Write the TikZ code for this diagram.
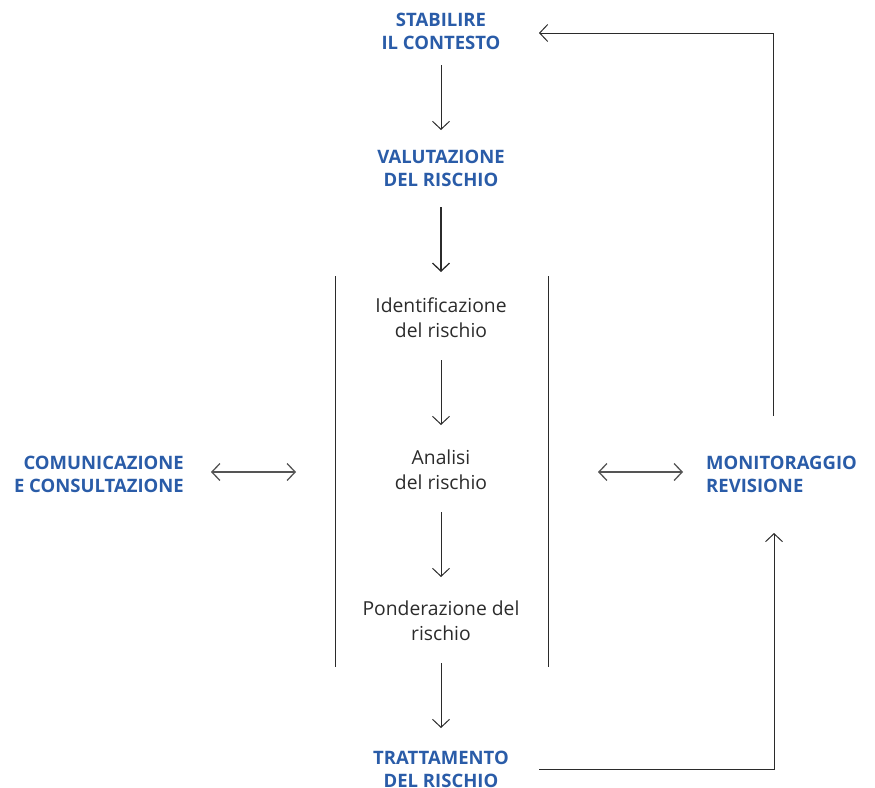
\documentclass[tikz,border=0pt]{standalone}
\usepackage{fontspec}
\setmainfont{Open Sans}
\usetikzlibrary{arrows.meta}
\definecolor{riskblue}{HTML}{2A5CA8}
\definecolor{softblack}{HTML}{2B2B2B}
\tikzset{
  bluetxt/.style={font=\fontsize{18.5}{23}\selectfont\bfseries, text=riskblue, align=center, inner sep=0pt},
  steptxt/.style={font=\fontsize{19.3}{25}\selectfont, text=softblack, align=center, inner sep=0pt},
  conn/.style={draw=softblack, line width=1pt, -{Straight Barb[length=8pt,width=17pt]}},
  dconn/.style={draw=softblack!80, line width=1.3pt, {Straight Barb[length=8pt,width=17pt]}-{Straight Barb[length=8pt,width=17pt]}},
  frame/.style={draw=softblack, line width=1pt}
}
\begin{document}
\begin{tikzpicture}[x=1pt,y=-1pt]
\useasboundingbox (0,0) rectangle (875,787);
\clip (0,0) rectangle (875,787);
\node[bluetxt] (ctx) at (441,31) {STABILIRE\\IL CONTESTO};
\node[bluetxt] (val) at (441,168) {VALUTAZIONE\\DEL RISCHIO};
\node[steptxt] (ide) at (441,318) {Identificazione\\del rischio};
\node[steptxt] (ana) at (441,470) {Analisi\\del rischio};
\node[steptxt] (pon) at (441,621) {Ponderazione del\\rischio};
\node[bluetxt] (tra) at (441,769) {TRATTAMENTO\\DEL RISCHIO};
\node[bluetxt, align=right, anchor=east] (com) at (184,474) {COMUNICAZIONE\\E CONSULTAZIONE};
\node[bluetxt, align=left, anchor=west] (mon) at (706,474) {MONITORAGGIO\\REVISIONE};
% vertical frame lines
\coordinate (fl1) at (335,276); \coordinate (fl2) at (335,667);
\coordinate (fr1) at (548,276); \coordinate (fr2) at (548,667);
\draw[frame] (fl1) -- (fl2);
\draw[frame] (fr1) -- (fr2);
% main flow
\coordinate (a1s) at (441,65); \coordinate (a1e) at (441,130);
\coordinate (a2s) at (441,207); \coordinate (a2e) at (441,272);
\coordinate (a3s) at (441,360); \coordinate (a3e) at (441,425);
\coordinate (a4s) at (441,512); \coordinate (a4e) at (441,577);
\coordinate (a5s) at (441,663); \coordinate (a5e) at (441,728);
\draw[conn] (a1s) -- (a1e);
\draw[conn, line width=1.3pt] (a2s) -- (a2e);
\draw[conn] (a3s) -- (a3e);
\draw[conn] (a4s) -- (a4e);
\draw[conn] (a5s) -- (a5e);
% double arrows
\coordinate (dl1) at (211,472); \coordinate (dl2) at (296,472);
\coordinate (dr1) at (598,472); \coordinate (dr2) at (683,472);
\draw[dconn] (dl1) -- (dl2);
\draw[dconn] (dr1) -- (dr2);
% feedback loops
\coordinate (t1) at (539,769); \coordinate (t2) at (774,769); \coordinate (t3) at (774,533);
\draw[conn] (t1) -- (t2) -- (t3);
\coordinate (m1) at (773,416); \coordinate (m2) at (773,33); \coordinate (m3) at (539,33);
\draw[conn] (m1) -- (m2) -- (m3);
\end{tikzpicture}
\end{document}
